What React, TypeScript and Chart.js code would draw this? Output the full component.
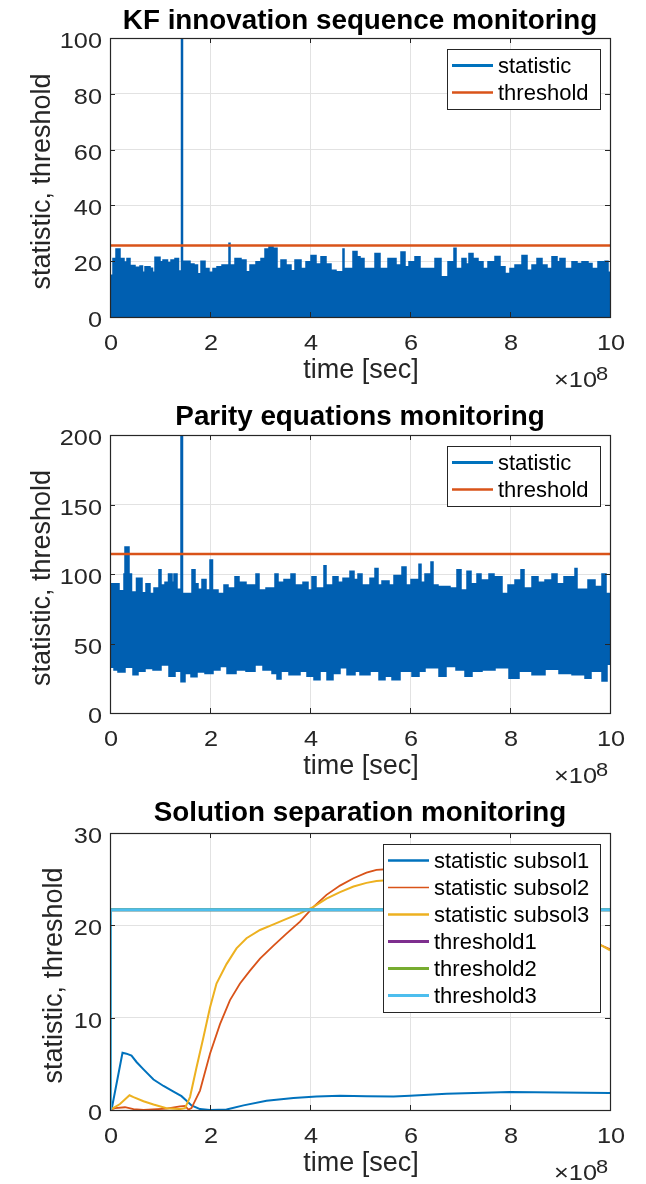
import React, { useEffect, useRef } from "react";
import { Chart, registerables } from "chart.js";

Chart.register(...registerables);

// ---------- data (time in units of 1e8 s) ----------
const X_TICKS = [0, 2, 4, 6, 8, 10];
const KF_Y_TICKS = [0, 20, 40, 60, 80, 100];
const PE_Y_TICKS = [0, 50, 100, 150, 200];
const SS_Y_TICKS = [0, 10, 20, 30];

// KF innovation: upper envelope of the dense statistic trace
const KF_TIME = [0.00,0.06,0.12,0.20,0.28,0.34,0.40,0.50,0.60,0.65,0.70,0.80,0.85,0.90,1.00,1.06,1.15,1.22,1.30,1.37,1.43,1.45,1.52,1.60,1.68,1.75,1.82,1.90,1.98,2.06,2.14,2.24,2.38,2.40,2.50,2.62,2.72,2.80,2.92,3.02,3.10,3.18,3.26,3.34,3.42,3.52,3.62,3.70,3.82,3.92,4.02,4.12,4.22,4.32,4.42,4.52,4.66,4.68,4.78,4.86,4.94,5.00,5.08,5.30,5.40,5.56,5.72,5.82,5.90,5.98,6.10,6.20,6.50,6.62,6.76,6.88,6.92,7.04,7.12,7.18,7.26,7.36,7.46,7.56,7.70,7.80,7.90,8.00,8.10,8.24,8.34,8.44,8.54,8.64,8.74,8.84,8.94,9.00,9.10,9.24,9.34,9.44,9.56,9.64,9.76,9.90,9.96,10.0];
const KF_STAT = [15,21,24.4,21,19.7,21,18.5,17.8,18.3,16,18,17.5,16,21.4,19.8,20.4,19.5,20.4,21,16.5,130,20,20,19,18.6,15.5,20,17.4,16,17.4,18,18.6,26.4,18.6,21,20.4,16.2,18.6,19.8,21,24.4,25.2,24.6,17.4,20.4,18.6,16.6,20.4,17.4,19.8,22,19,21.6,19,16.8,16.2,24.4,17.4,17.4,23.5,21.6,21,17.4,22.8,17.4,21,18.6,23.3,18,19.8,21.6,17.4,21,14.4,19.8,24.6,17.4,21,19,22.8,21,19.8,17.4,19.8,21.7,18,15.6,17.4,18.6,22,16.8,18.6,21,18.6,17.4,21.6,19.8,21,17.4,19.8,19.2,19.8,19.2,17.4,19.8,20,16,16];
const KF_THRESHOLD = 25.6;

// Parity equations: upper and lower envelopes of the dense statistic trace
const PE_UP_TIME = [0.00,0.03,0.18,0.28,0.30,0.38,0.43,0.53,0.64,0.72,0.80,0.88,0.98,1.02,1.10,1.17,1.24,1.28,1.34,1.42,1.45,1.64,1.70,1.76,1.84,1.92,2.00,2.05,2.16,2.28,2.36,2.50,2.58,2.72,2.92,2.98,3.12,3.30,3.36,3.48,3.62,3.70,3.86,3.96,4.04,4.12,4.28,4.32,4.46,4.56,4.66,4.80,4.88,4.96,5.04,5.20,5.30,5.36,5.44,5.58,5.68,5.84,5.92,6.02,6.18,6.22,6.30,6.42,6.46,6.56,6.80,6.94,7.02,7.14,7.22,7.34,7.42,7.58,7.68,7.84,7.96,8.10,8.22,8.28,8.44,8.56,8.70,8.84,8.94,9.08,9.30,9.34,9.56,9.70,9.84,9.92,10.0];
const PE_UP = [88.5,93,88,100,119.5,100,87,97,86.5,93,86,90,103,92,94,100,94,100,89,250,86,103,93,89,96,88.5,110,88.5,86,92,90,98,94,92,100,88.5,90,100,94,96,100,92,94,88.5,98,90,106,92,98,94,97,102,96,100,92,97,104,92,95,92,99,105,92,96,107,94,100,108.6,92,91,90,103,88.5,102,93,100,95.7,100,98,86,92,95.7,103,90,98,94,95.7,100,93,98,104,89,95.7,91,100,86,83];
const PE_LO_TIME = [0.00,0.08,0.16,0.30,0.46,0.56,0.70,0.86,1.02,1.18,1.30,1.42,1.50,1.62,1.74,1.90,2.06,2.20,2.34,2.52,2.72,2.90,3.06,3.24,3.34,3.42,3.58,3.80,3.94,4.08,4.20,4.34,4.46,4.60,4.74,4.90,5.00,5.20,5.38,5.50,5.64,5.80,6.04,6.18,6.30,6.58,6.72,6.92,7.10,7.24,7.44,7.70,7.98,8.18,8.44,8.70,8.98,9.24,9.50,9.62,9.84,9.94,10.0];
const PE_LO = [33,31,29.5,33,27.5,30,32,31,34.5,26.5,30,22.5,28.5,26,29.5,28.5,31,33.5,28.5,31,30,34.5,31,28.5,24.5,30,27.5,30,26.5,24,30,24,28.5,32.5,27.5,30,27.5,30,24,26.5,24,30,26.5,30,32.5,26.5,33.5,31,26.5,30,31,32.5,25,30,27.5,31.5,28.5,27.5,25,30,23,35,35];
const PE_THRESHOLD = 114.4;

// Solution separation
const SS_T1 = [0,0.03,0.25,0.33,0.43,0.53,0.67,0.87,1.07,1.27,1.43,1.52,1.63,1.80,2.00,2.33,2.67,3.13,3.67,4.13,4.60,5.13,5.67,6.00,6.73,8.00,9.00,10.0];
const SS_V1 = [0,0,6.2,6.1,5.9,5.2,4.4,3.3,2.6,2.0,1.5,1.05,0.5,0.1,0,0.05,0.5,1.0,1.3,1.45,1.55,1.5,1.45,1.55,1.75,1.95,1.9,1.85];
const SS_T2 = [0,0.10,0.30,0.47,0.67,1.13,1.40,1.50,1.57,1.63,1.80,2.00,2.20,2.40,2.60,2.80,3.00,3.27,3.53,3.80,4.07,4.33,4.60,4.87,5.13,5.33,5.60,6.00,7.00,8.00,9.00,9.80,10.0];
const SS_V2 = [0,0.2,0.3,0.1,0,0.15,0.4,0.45,0.05,0.2,2.1,6.1,9.3,11.9,13.7,15.1,16.4,17.8,19.1,20.4,22.0,23.3,24.3,25.1,25.7,26.0,26.1,25.8,23.9,21.6,19.5,17.9,17.4];
const SS_T3 = [0,0.20,0.39,0.47,0.67,0.87,1.13,1.40,1.50,1.60,1.73,1.87,2.00,2.13,2.33,2.53,2.73,3.00,3.27,3.53,3.80,4.07,4.33,4.60,4.87,5.13,5.33,5.60,6.00,7.00,8.00,9.00,9.80,10.0];
const SS_V3 = [0,0.65,1.6,1.4,0.95,0.6,0.2,0.1,0.2,1.4,4.6,7.9,11.1,13.7,15.8,17.5,18.6,19.5,20.1,20.7,21.3,22.0,22.9,23.6,24.2,24.6,24.8,24.9,24.6,23.1,21.2,19.3,17.9,17.3];
const SS_THR_TIME = [0, 0.01, 10];
const SS_THR1 = [0, 21.7, 21.7];
const SS_THR2 = [0, 21.7, 21.7];
const SS_THR3 = [0, 21.7, 21.7];

// ---------- styling ----------
const FONT = '"Liberation Sans", Arial, Helvetica, sans-serif';
const AX = "#262626";
const C_BLUE = "#0072BD";
const C_BAND = "#005FB1";
const C_RED = "#D95319";
const C_YEL = "#EDB120";
const C_PUR = "#7E2F8E";
const C_GRN = "#77AC30";
const C_CYAN = "#4DBEEE";
const TICK_FONT = `22px ${FONT}`;
const TICK_SX = 1.15;

const zip = (xs: number[], ys: number[]) => xs.map((x, i) => ({ x, y: ys[i] }));

function drawText(ctx: CanvasRenderingContext2D, s: string, x: number, y: number, font: string, align: CanvasTextAlign, color: string, sx = 1, rot = 0) {
  ctx.save();
  ctx.translate(x, y);
  if (rot) ctx.rotate(rot);
  ctx.scale(sx, 1);
  ctx.font = font;
  ctx.textAlign = align;
  ctx.textBaseline = "alphabetic";
  ctx.fillStyle = color;
  ctx.fillText(s, 0, 0);
  ctx.restore();
}

type LegendItem = { label: string; color: string; width: number };
type Spec = {
  title: string;
  yMax: number;
  yTicks: number[];
  yLabelX: number;
  titleGap: number;
  legend: LegendItem[];
  datasets: any[];
  height: number;
  top: number;
  padTop: number;
  padBottom: number;
};

function makeDecor(spec: Spec) {
  return {
    id: "decor",
    afterDraw(chart: any) {
      const ctx: CanvasRenderingContext2D = chart.ctx;
      const ca = chart.chartArea;
      const xs = chart.scales.x;
      const ys = chart.scales.y;
      const L = ca.left, R = ca.right, T = ca.top, B = ca.bottom;
      ctx.save();
      // tick marks (inward, mirrored)
      ctx.strokeStyle = AX;
      ctx.lineWidth = 1;
      ctx.beginPath();
      X_TICKS.forEach((v) => {
        const p = Math.round(xs.getPixelForValue(v)) + 0.5;
        ctx.moveTo(p, B); ctx.lineTo(p, B - 5);
        ctx.moveTo(p, T); ctx.lineTo(p, T + 5);
      });
      spec.yTicks.forEach((v) => {
        const p = Math.round(ys.getPixelForValue(v)) + 0.5;
        ctx.moveTo(L, p); ctx.lineTo(L + 5, p);
        ctx.moveTo(R, p); ctx.lineTo(R - 5, p);
      });
      ctx.stroke();
      // box
      ctx.lineWidth = 1.2;
      ctx.strokeRect(L + 0.5, T + 0.5, R - L, B - T);

      // tick labels
      X_TICKS.forEach((v) => {
        drawText(ctx, String(v), xs.getPixelForValue(v) + 1, B + 33, TICK_FONT, "center", AX, TICK_SX);
      });
      spec.yTicks.forEach((v) => {
        drawText(ctx, String(v), 102, ys.getPixelForValue(v) + 10, TICK_FONT, "right", AX, TICK_SX);
      });
      // title and labels
      drawText(ctx, spec.title, (L + R) / 2, T - spec.titleGap, `bold 27px ${FONT}`, "center", "#000", 1.03);
      drawText(ctx, "time [sec]", (L + R) / 2 + 1, B + 61, `27px ${FONT}`, "center", AX);
      drawText(ctx, "statistic, threshold", spec.yLabelX, (T + B) / 2 + 4, `27px ${FONT}`, "center", AX, 1, -Math.PI / 2);
      drawText(ctx, "\u00d710", R - 13, B + 70, TICK_FONT, "right", AX, TICK_SX);
      drawText(ctx, "8", R - 14, B + 62.5, `19px ${FONT}`, "left", AX, TICK_SX);

      // legend
      ctx.font = `22px ${FONT}`;
      const maxW = Math.max(...spec.legend.map((it) => ctx.measureText(it.label).width));
      const lw = Math.round(51 + maxW + 11);
      const lh = 33 + 27 * (spec.legend.length - 1);
      const lx = Math.round(R - 10 - lw);
      const ly = Math.round(T + 11);
      ctx.fillStyle = "#fff";
      ctx.fillRect(lx, ly, lw, lh);
      ctx.strokeStyle = AX;
      ctx.lineWidth = 1;
      ctx.strokeRect(lx + 0.5, ly + 0.5, lw, lh);
      spec.legend.forEach((it, i) => {
        const y = ly + 16.5 + i * 27;
        ctx.strokeStyle = it.color;
        ctx.lineWidth = it.width;
        ctx.beginPath();
        ctx.moveTo(lx + 5, y);
        ctx.lineTo(lx + 46, y);
        ctx.stroke();
        drawText(ctx, it.label, lx + 51, y + 7.5, `22px ${FONT}`, "left", "#000");
      });
      ctx.restore();
    },
  };
}

function Panel({ spec }: { spec: Spec }) {
  const ref = useRef<HTMLCanvasElement>(null);
  useEffect(() => {
    if (!ref.current) return;
    const n = spec.datasets.length;
    const datasets = spec.datasets.map((d, i) => ({
      pointRadius: 0,
      tension: 0,
      order: n - i,
      ...d,
    }));
    const yStep = spec.yTicks[1] - spec.yTicks[0];
    const chart = new Chart(ref.current, {
      type: "line",
      data: { datasets },
      plugins: [makeDecor(spec)],
      options: {
        animation: false,
        responsive: false,
        devicePixelRatio: 1,
        events: [],
        layout: { padding: { left: 110, right: 36, top: spec.padTop, bottom: spec.padBottom } },
        plugins: { legend: { display: false }, title: { display: false }, tooltip: { enabled: false } },
        scales: {
          x: {
            type: "linear",
            min: 0,
            max: 10,
            ticks: { display: false, stepSize: 2 },
            grid: { color: "#e2e2e2", lineWidth: 1, drawTicks: false },
            border: { display: false },
            afterFit: (s: any) => { s.height = 0; },
          },
          y: {
            type: "linear",
            min: 0,
            max: spec.yMax,
            ticks: { display: false, stepSize: yStep },
            grid: { color: "#e2e2e2", lineWidth: 1, drawTicks: false },
            border: { display: false },
            afterFit: (s: any) => { s.width = 0; },
          },
        },
      } as any,
    });
    return () => chart.destroy();
  }, []);
  return (
    <canvas
      ref={ref}
      width={646}
      height={spec.height}
      style={{ position: "absolute", left: 0, top: spec.top, width: 646, height: spec.height, display: "block" }}
    />
  );
}

const SPECS: Spec[] = [
  {
    title: "KF innovation sequence monitoring",
    yMax: 100,
    yTicks: KF_Y_TICKS,
    yLabelX: 50,
    titleGap: 9.5,
    top: 0,
    height: 395,
    padTop: 38,
    padBottom: 78,
    legend: [
      { label: "statistic", color: C_BLUE, width: 3 },
      { label: "threshold", color: C_RED, width: 2.5 },
    ],
    datasets: [
      { data: zip(KF_TIME, KF_STAT), stepped: true, borderColor: C_BAND, backgroundColor: C_BAND, borderWidth: 1.5, fill: "origin" },
      { data: [{ x: 0, y: KF_THRESHOLD }, { x: 10, y: KF_THRESHOLD }], borderColor: C_RED, borderWidth: 2.5, fill: false },
    ],
  },
  {
    title: "Parity equations monitoring",
    yMax: 200,
    yTicks: PE_Y_TICKS,
    yLabelX: 50,
    titleGap: 10,
    top: 395,
    height: 397,
    padTop: 40,
    padBottom: 79,
    legend: [
      { label: "statistic", color: C_BLUE, width: 3 },
      { label: "threshold", color: C_RED, width: 2.5 },
    ],
    datasets: [
      { data: zip(PE_UP_TIME, PE_UP), stepped: true, borderColor: C_BAND, backgroundColor: C_BAND, borderWidth: 1.5, fill: "+1" },
      { data: zip(PE_LO_TIME, PE_LO), stepped: true, borderColor: C_BAND, backgroundColor: C_BAND, borderWidth: 1.5, fill: false },
      { data: [{ x: 0, y: PE_THRESHOLD }, { x: 10, y: PE_THRESHOLD }], borderColor: C_RED, borderWidth: 2.5, fill: false },
    ],
  },
  {
    title: "Solution separation monitoring",
    yMax: 30,
    yTicks: SS_Y_TICKS,
    yLabelX: 62,
    titleGap: 12,
    top: 792,
    height: 392,
    padTop: 41,
    padBottom: 74,
    legend: [
      { label: "statistic subsol1", color: C_BLUE, width: 2.5 },
      { label: "statistic subsol2", color: C_RED, width: 1.5 },
      { label: "statistic subsol3", color: C_YEL, width: 2.5 },
      { label: "threshold1", color: C_PUR, width: 3 },
      { label: "threshold2", color: C_GRN, width: 3 },
      { label: "threshold3", color: C_CYAN, width: 3 },
    ],
    datasets: [
      { data: zip(SS_T1, SS_V1), borderColor: C_BLUE, borderWidth: 2, fill: false },
      { data: zip(SS_T2, SS_V2), borderColor: C_RED, borderWidth: 1.8, fill: false },
      { data: zip(SS_T3, SS_V3), borderColor: C_YEL, borderWidth: 2, fill: false },
      { data: zip(SS_THR_TIME, SS_THR1), borderColor: C_PUR, borderWidth: 3, fill: false },
      { data: zip(SS_THR_TIME, SS_THR2), borderColor: C_GRN, borderWidth: 3, fill: false },
      { data: zip(SS_THR_TIME, SS_THR3), borderColor: C_CYAN, borderWidth: 3, fill: false },
    ],
  },
];

export default function App() {
  return (
    <div style={{ position: "absolute", left: 0, top: 0, width: 646, height: 1184, background: "#fff", overflow: "hidden" }}>
      {SPECS.map((s, i) => (
        <Panel key={i} spec={s} />
      ))}
    </div>
  );
}
